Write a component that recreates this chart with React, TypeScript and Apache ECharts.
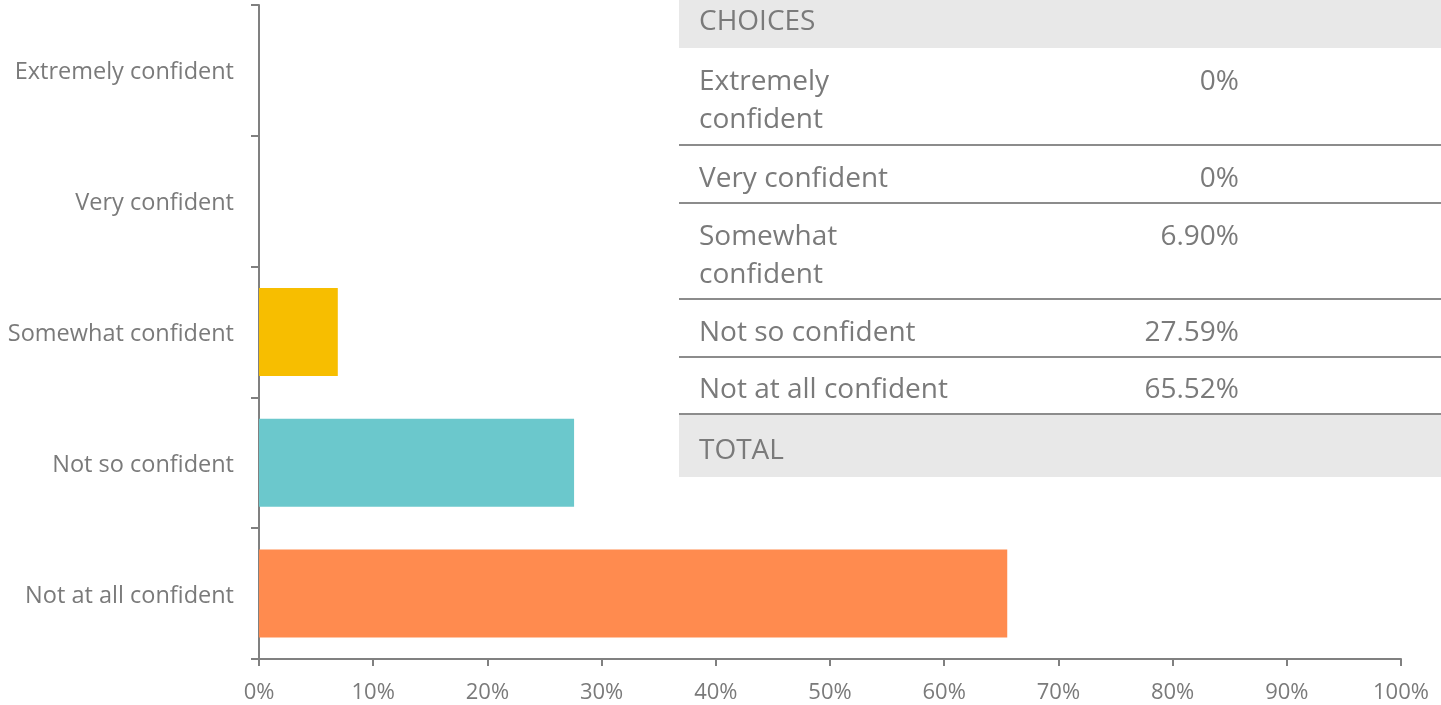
import React, { useEffect, useRef } from "react";
import * as echarts from "echarts";

const categories = [
  "Extremely confident",
  "Very confident",
  "Somewhat confident",
  "Not so confident",
  "Not at all confident",
];
const values = [0, 0, 6.9, 27.59, 65.52];
const barColors = ["#5B9BD5", "#ED7D31", "#F7BE00", "#6BC8CC", "#FF8B4F"];
const xTicks = [0, 10, 20, 30, 40, 50, 60, 70, 80, 90, 100];

const tableHeader = "CHOICES";
const tableFooter = "TOTAL";
const tableLabels = [
  "Extremely\nconfident",
  "Very confident",
  "Somewhat\nconfident",
  "Not so confident",
  "Not at all confident",
];
const tableValues = ["0%", "0%", "6.90%", "27.59%", "65.52%"];

const FONT = "'Open Sans', 'Noto Sans', sans-serif";
const TEXT = "#7a7a7a";

export default function App() {
  const ref = useRef<HTMLDivElement>(null);

  useEffect(() => {
    if (!ref.current) return;
    const chart = echarts.init(ref.current, null, { renderer: "svg" });

    const tableX = 679;
    const textX = 699;
    const valX = 1239;
    const lh = 38;
    const fs = 28;
    const rowFirst = [79, 176, 234, 330, 387];
    const rowBottom = [145, 203, 299, 357, 414];

    const graphics: any[] = [];
    graphics.push({
      type: "rect",
      shape: { x: tableX, y: 0, width: 1441 - tableX, height: 48 },
      style: { fill: "#e8e8e8" },
      z: 10,
    });
    graphics.push({
      type: "text",
      x: textX,
      y: 19,
      style: { text: tableHeader, font: `${fs}px ${FONT}`, fill: TEXT, verticalAlign: "middle", align: "left" },
      z: 11,
    });
    tableLabels.forEach((lab, i) => {
      graphics.push({
        type: "text",
        x: textX,
        y: rowFirst[i] - lh / 2,
        style: { text: lab, font: `${fs}px ${FONT}`, fill: TEXT, verticalAlign: "top", align: "left", lineHeight: lh },
        z: 11,
      });
      graphics.push({
        type: "text",
        x: valX,
        y: rowFirst[i] - lh / 2,
        style: { text: tableValues[i], font: `${fs}px ${FONT}`, fill: TEXT, verticalAlign: "top", align: "right", lineHeight: lh },
        z: 11,
      });
      graphics.push({
        type: "line",
        shape: { x1: tableX, y1: rowBottom[i], x2: 1441, y2: rowBottom[i] },
        style: { stroke: "#8c8c8c", lineWidth: 2 },
        z: 12,
      });
    });
    graphics.push({
      type: "rect",
      shape: { x: tableX, y: 415, width: 1441 - tableX, height: 62 },
      style: { fill: "#e8e8e8" },
      z: 10,
    });
    graphics.push({
      type: "text",
      x: textX,
      y: 448,
      style: { text: tableFooter, font: `${fs}px ${FONT}`, fill: TEXT, verticalAlign: "middle", align: "left" },
      z: 11,
    });

    chart.setOption({
      animation: false,
      grid: { left: 259, right: 40, top: 5, bottom: 46, containLabel: false },
      xAxis: {
        type: "value",
        min: xTicks[0],
        max: xTicks[xTicks.length - 1],
        interval: 10,
        axisLine: { show: true, lineStyle: { color: "#808080", width: 2 } },
        axisTick: { show: true, length: 7, lineStyle: { color: "#808080", width: 2 } },
        splitLine: { show: false },
        axisLabel: {
          formatter: "{value}%",
          color: TEXT,
          fontFamily: FONT,
          fontSize: 22,
          lineHeight: 22,
          margin: 20,
        },
      },
      yAxis: {
        type: "category",
        data: categories,
        inverse: true,
        axisLine: { show: true, lineStyle: { color: "#808080", width: 2 } },
        axisTick: { show: true, length: 8, alignWithLabel: false, lineStyle: { color: "#808080", width: 2 } },
        axisLabel: { color: TEXT, fontFamily: FONT, fontSize: 23.5, margin: 25 },
        splitLine: { show: false },
      },
      series: [
        {
          type: "bar",
          data: values.map((v, i) => ({ value: v, itemStyle: { color: barColors[i] } })),
          barWidth: 88,
        },
      ],
      graphic: graphics,
    });

    return () => chart.dispose();
  }, []);

  return <div ref={ref} style={{ position: "fixed", left: 0, top: 0, width: 1441, height: 705 }} />;
}
